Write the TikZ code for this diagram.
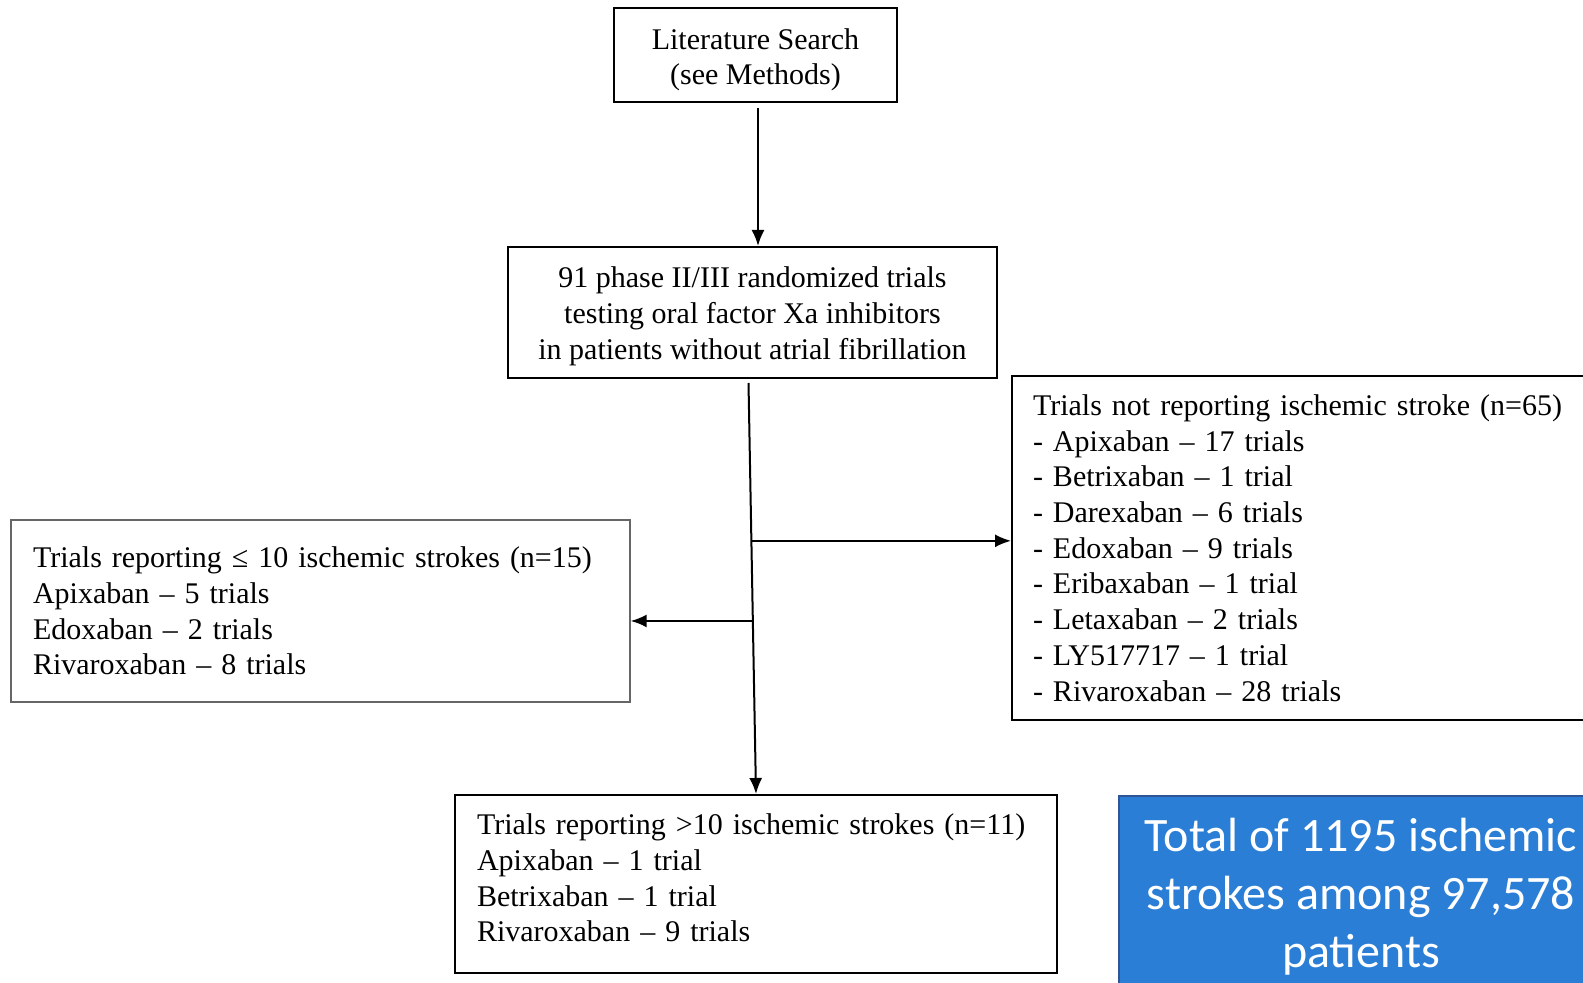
\documentclass[tikz,border=0pt]{standalone}
\usepackage{fontspec}
\setmainfont{Liberation Serif}
\newfontfamily\calibrifont{Carlito}
\usetikzlibrary{arrows.meta,calc}
\definecolor{total_blue}{RGB}{43,126,214}
\definecolor{total_edge}{RGB}{47,85,151}

\begin{document}
\begin{tikzpicture}[x=0.5pt,y=-0.5pt,
  flow_box/.style={draw=black, line width=1pt, inner sep=0pt, font=\fontsize{15pt}{17.85pt}\selectfont},
  flow_arrow/.style={line width=1pt, -{Latex[length=8pt,width=6.5pt]}}]
  \useasboundingbox (0,0) rectangle (1583,983);
  % draw the two top boxes
  \node[flow_box, align=center, minimum width=141.5pt, minimum height=47pt] (lit_search) at (755.5,55) {\rule{0pt}{15.3pt}Literature Search\\(see Methods)};
  \node[flow_box, align=center, minimum width=244.5pt, minimum height=65.5pt] (trials_all) at (752.5,312.5) {\rule{0pt}{14.3pt}91 phase II/III randomized trials\\testing oral factor Xa inhibitors\\in patients without atrial fibrillation};
  % draw the outcome boxes
  \node[flow_box, draw=black!60, line width=0.7pt, align=left, inner xsep=11pt, text width=287.5pt, minimum height=91pt] (le_ten) at (320.5,611) {Trials reporting ≤ 10 ischemic strokes (n=15)\\Apixaban – 5 trials\\Edoxaban – 2 trials\\Rivaroxaban – 8 trials};
  \node[flow_box, align=left, inner xsep=10.5pt, text width=283pt, minimum height=172pt] (not_reported) at (1316,548) {Trials not reporting ischemic stroke (n=65)\\- Apixaban – 17 trials\\- Betrixaban – 1 trial\\- Darexaban – 6 trials\\- Edoxaban – 9 trials\\- Eribaxaban – 1 trial\\- Letaxaban – 2 trials\\- LY517717 – 1 trial\\- Rivaroxaban – 28 trials};
  \node[flow_box, align=left, inner xsep=11pt, text width=279pt, minimum height=89pt] (gt_ten) at (756,884) {Trials reporting >10 ischemic strokes (n=11)\\Apixaban – 1 trial\\Betrixaban – 1 trial\\Rivaroxaban – 9 trials\rule[-6.2pt]{0pt}{6.2pt}};
  % draw the blue total box
  \node[anchor=north, fill=total_blue, draw=total_edge, line width=0.75pt, text=white, align=center, inner xsep=0pt, inner ysep=11pt, minimum width=242pt, font=\calibrifont\fontsize{24pt}{29pt}\selectfont] (total_box) at (1361,795) {Total of 1195 ischemic\\strokes among 97,578\\patients};
  % draw the connectors
  \draw[flow_arrow] ([xshift=1.25pt,yshift=-2.5pt]lit_search.south) -- ([xshift=1.25pt]lit_search.south |- trials_all.north);
  \coordinate (split_top) at ($(trials_all.south)+(-2pt,-2pt)$);
  \draw[flow_arrow] (split_top) -- (gt_ten.north);
  \coordinate (branch_right) at ($(split_top)!0.384!(gt_ten.north)$);
  \coordinate (branch_left) at ($(split_top)!0.579!(gt_ten.north)$);
  \draw[flow_arrow] (branch_right) -- (branch_right -| not_reported.west);
  \draw[flow_arrow] (branch_left) -- (branch_left -| le_ten.east);
\end{tikzpicture}
\end{document}
